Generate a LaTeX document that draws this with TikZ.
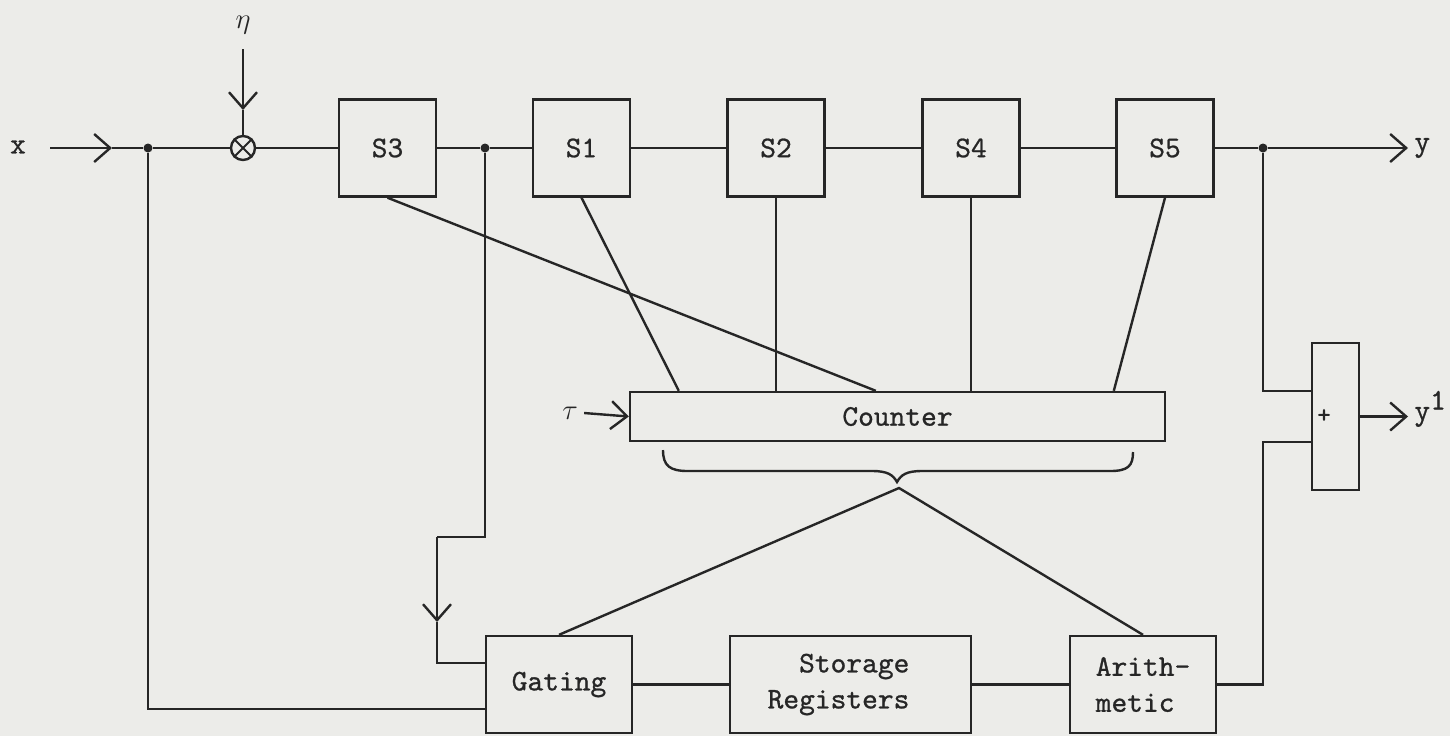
\documentclass[tikz,border=0pt]{standalone}
\usepackage{fontspec}
\setmonofont[FakeBold=0.8]{lmmono10-regular.otf}
\usetikzlibrary{arrows.meta}
\definecolor{paper}{RGB}{236,236,233}
\definecolor{ink}{RGB}{38,38,38}
\begin{document}
\begin{tikzpicture}[x=0.5pt,y=-0.5pt,
  every node/.style={font=\fontsize{15}{18}\selectfont\ttfamily, text=ink},
  box/.style={draw=ink, line width=1.2pt, inner sep=0pt, minimum width=48.5pt, minimum height=48.5pt},
  dot/.style={circle, fill=ink, inner sep=0pt, minimum size=4.5pt},
  wire/.style={draw=ink, line width=1.2pt},
  arr/.style={wire, -{Straight Barb[length=8pt,width=14pt]}},
]
\fill[paper] (0,0) rectangle (1450,736);
\useasboundingbox (0,0) rectangle (1450,736);

% input labels
\node[inner sep=0pt] (xin) at (18,147) {x};
\node[inner sep=0pt] (eta) at (243,25) {$\eta$};
\node[inner sep=3pt] (tau) at (570,413) {$\tau$};

% top row
\node[dot] (d1) at (148,148) {};
\node[draw=ink, circle, line width=1.2pt, minimum size=12pt, inner sep=0pt] (mul) at (243,148) {};
\node[box] (s3) at (387.5,148) {S3};
\node[dot] (d2) at (485,148) {};
\node[box] (s1) at (581.5,148) {S1};
\node[box] (s2) at (776,148) {S2};
\node[box] (s4) at (971,148) {S4};
\node[box] (s5) at (1165,148) {S5};
\node[dot] (d3) at (1263,148) {};
\node[anchor=west, inner xsep=3pt, inner ysep=0pt] (yout) at (1408,148) {y};

% counter and sum
\node[box, minimum width=267.5pt, minimum height=24.5pt] (cnt) at (897.5,416.5) {Counter};
\node[box, minimum width=23.5pt, minimum height=73.5pt] (plus) at (1335.5,416.5) {};
\node[inner sep=0pt, font=\fontsize{13}{15}\selectfont\ttfamily] (pl) at (1324,416) {+};
\node[anchor=base west, inner xsep=3pt] (y1) at (1408,420) {y$^{\texttt{1}}$};

% bottom row
\node[box, minimum width=73pt] (gate) at (559,684.5) {Gating};
\node[box, minimum width=120.5pt, align=right] (stor) at (850.5,684.5) {Storage\kern12pt\\Registers\kern12pt};
\node[box, minimum width=73pt, align=left] (arith) at (1143,684.5) {Arith-\\metic};

% coordinates
\coordinate (xs) at (50,148);
\coordinate (xa) at (112,148);
\coordinate (es) at (243,49);
\coordinate (ea) at (243,110);
\coordinate (k1) at (437,537);
\coordinate (ka) at (437,622);
\coordinate (g1) at ([yshift=10.75pt]gate.west);
\coordinate (g2) at ([yshift=-12.25pt]gate.west);
\coordinate (pin1) at ([yshift=12.75pt]plus.west);
\coordinate (pin2) at ([yshift=-12.75pt]plus.west);
\coordinate (apex) at (899,488);

% main line
\draw[arr] (xs) -- (xa);
\draw[wire] (xa) -- (d1) -- (mul) -- (s3) -- (d2) -- (s1) -- (s2) -- (s4) -- (s5) -- (d3);
\draw[arr] (d3) -- (yout.west);

% noise input
\draw[arr] (es) -- (ea);
\draw[wire] (ea) -- (mul);
\draw[wire, line width=1pt] (mul.north east) -- (mul.south west) (mul.north west) -- (mul.south east);

% feedback to gating
\draw[wire] (d1) |- (g2);
\draw[wire] (d2) |- (k1);
\draw[arr] (k1) -- (ka);
\draw[wire] (ka) |- (g1);

% stages to counter
\draw[wire] (s3.south) -- ([xshift=123.5pt]cnt.north west);
\draw[wire] (s1.south) -- ([xshift=25pt]cnt.north west);
\draw[wire] (s2.south) -- (s2.south |- cnt.north);
\draw[wire] (s4.south) -- (s4.south |- cnt.north);
\draw[wire] (s5.south) -- ([xshift=242.5pt]cnt.north west);

% tau input
\draw[arr] (tau.east) -- (cnt.west);

% brace
\draw[wire] (663,450) .. controls (663,466) and (670,471) .. (688,471) -- (872,471)
  .. controls (888,471) and (893,475) .. (897,482)
  .. controls (901,475) and (906,471) .. (922,471) -- (1110,471)
  .. controls (1128,471) and (1133,466) .. (1133,452);
\draw[wire] (gate.north) -- (apex) -- (arith.north);

% bottom chain
\draw[wire] (gate) -- (stor) -- (arith);
\draw[wire] (arith.east) -| ([xshift=-24pt]pin2) -- (pin2);

% sum
\draw[wire] (d3) |- (pin1);
\draw[arr] (plus.east) -- (plus.east -| y1.west);
\end{tikzpicture}
\end{document}
